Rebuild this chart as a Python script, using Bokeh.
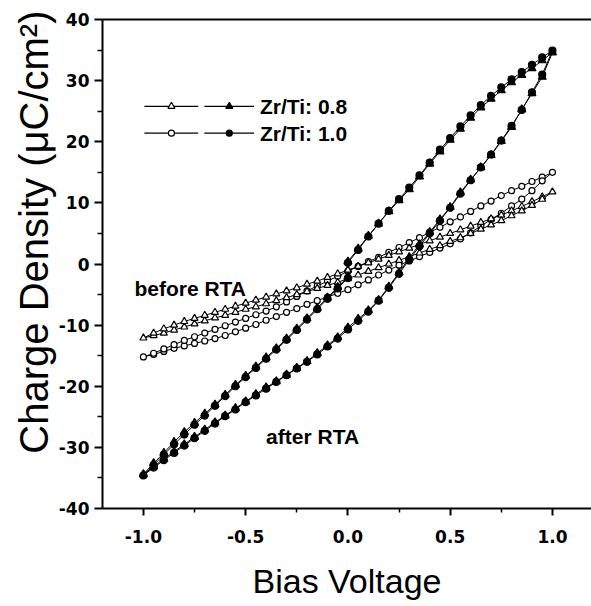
import numpy as np
from bokeh.plotting import figure
from bokeh.models import FixedTicker, LinearAxis, Label, Range1d, Title
from bokeh.embed import file_html
from bokeh.resources import INLINE

# ---------------- data ----------------
# bias sweep: 0 -> +1 -> -1 -> 0  (V)
V = [0.00, 0.05, 0.10, 0.15, 0.20, 0.25, 0.30, 0.35, 0.40, 0.45, 0.50,
     0.55, 0.60, 0.65, 0.70, 0.75, 0.80, 0.85, 0.90, 0.95, 1.00,
     0.95, 0.90, 0.85, 0.80, 0.75, 0.70, 0.65, 0.60, 0.55, 0.50,
     0.45, 0.40, 0.35, 0.30, 0.25, 0.20, 0.15, 0.10, 0.05, 0.00,
     -0.05, -0.10, -0.15, -0.20, -0.25, -0.30, -0.35, -0.40, -0.45, -0.50,
     -0.55, -0.60, -0.65, -0.70, -0.75, -0.80, -0.85, -0.90, -0.95, -1.00,
     -0.95, -0.90, -0.85, -0.80, -0.75, -0.70, -0.65, -0.60, -0.55, -0.50,
     -0.45, -0.40, -0.35, -0.30, -0.25, -0.20, -0.15, -0.10, -0.05, 0.00]

# Zr/Ti 0.8, before RTA (open triangles)
q_before_08 = [-1.0, -0.4, 0.2, 0.8, 1.4, 2.0, 2.6, 3.2, 3.8, 4.4, 5.0,
               5.6, 6.2, 6.8, 7.4, 8.0, 8.7, 9.4, 10.2, 11.0, 11.8,
               10.6, 9.6, 8.7, 7.9, 7.1, 6.4, 5.7, 5.0, 4.3, 3.7,
               3.0, 2.4, 1.8, 1.2, 0.6, 0.0, -0.6, -1.2, -1.8, -2.4,
               -3.0, -3.5, -4.0, -4.5, -5.0, -5.5, -6.0, -6.5, -7.0, -7.4,
               -7.9, -8.4, -8.8, -9.3, -9.8, -10.3, -10.8, -11.3, -11.7, -12.1,
               -11.3, -10.6, -10.0, -9.4, -8.9, -8.4, -7.9, -7.4, -6.9, -6.4,
               -5.9, -5.4, -4.9, -4.4, -3.9, -3.3, -2.8, -2.2, -1.6, -1.0]

# Zr/Ti 1.0, before RTA (open circles)
q_before_10 = [-1.2, -0.4, 0.4, 1.1, 1.9, 2.7, 3.5, 4.3, 5.2, 6.0, 6.9,
               7.7, 8.6, 9.5, 10.3, 11.2, 12.0, 12.7, 13.5, 14.2, 15.0,
               13.6, 12.0, 10.6, 9.5, 8.3, 7.3, 6.2, 5.1, 4.1, 3.3,
               2.6, 1.9, 1.2, 0.5, -0.2, -1.0, -1.8, -2.6, -3.4, -4.2,
               -4.8, -5.4, -6.0, -6.6, -7.3, -7.9, -8.6, -9.2, -9.9, -10.5,
               -11.1, -11.7, -12.2, -12.6, -13.0, -13.4, -13.8, -14.3, -14.8, -15.2,
               -14.6, -13.9, -13.2, -12.5, -11.9, -11.3, -10.7, -10.1, -9.5, -8.9,
               -8.3, -7.7, -7.0, -6.2, -5.3, -4.4, -3.6, -2.8, -2.0, -1.2]

# Zr/Ti 0.8, after RTA (filled triangles)
q_after_08 = [0.4, 2.5, 4.6, 6.6, 8.6, 10.4, 12.2, 14.3, 16.4, 18.4, 20.3,
              22.1, 23.9, 25.6, 27.0, 28.4, 29.7, 30.9, 32.0, 33.3, 34.6,
              30.6, 27.9, 25.3, 22.4, 20.1, 17.8, 15.8, 13.8, 11.7, 9.3,
              7.3, 5.2, 3.2, 1.0, -1.4, -3.7, -5.9, -7.6, -9.0, -10.4,
              -12.0, -13.3, -14.6, -15.9, -17.0, -18.1, -19.2, -20.2, -21.3, -22.5,
              -23.6, -24.8, -25.9, -27.1, -28.3, -29.5, -30.7, -31.9, -33.1, -34.4,
              -32.6, -30.9, -29.1, -27.5, -26.0, -24.5, -23.0, -21.4, -19.8, -18.3,
              -16.8, -15.3, -13.8, -12.2, -10.6, -8.9, -7.2, -5.5, -3.8, -2.1]

# Zr/Ti 1.0, after RTA (filled circles)
q_after_10 = [0.2, 2.3, 4.5, 6.6, 8.7, 10.6, 12.5, 14.5, 16.6, 18.7, 20.6,
              22.5, 24.3, 26.0, 27.5, 28.9, 30.2, 31.4, 32.6, 33.8, 34.9,
              31.0, 28.1, 25.2, 22.6, 20.2, 17.9, 15.8, 13.7, 11.5, 9.2,
              7.1, 5.0, 2.9, 0.7, -1.6, -3.9, -6.0, -7.8, -9.3, -10.7,
              -12.2, -13.5, -14.8, -16.0, -17.1, -18.2, -19.3, -20.4, -21.5, -22.6,
              -23.8, -24.9, -26.1, -27.3, -28.5, -29.7, -30.9, -32.1, -33.3, -34.6,
              -32.9, -31.2, -29.5, -27.9, -26.3, -24.8, -23.2, -21.6, -20.0, -18.5,
              -17.0, -15.5, -14.0, -12.4, -10.8, -9.1, -7.4, -5.7, -4.0, -2.3]

x_ticks = [-1.0, -0.5, 0.0, 0.5, 1.0]
x_tick_labels = ["-1.0", "-0.5", "0.0", "0.5", "1.0"]
x_minor = [-0.75, -0.25, 0.25, 0.75]
y_ticks = [-40, -30, -20, -10, 0, 10, 20, 30, 40]
y_tick_labels = ["-40", "-30", "-20", "-10", "0", "10", "20", "30", "40"]
y_minor = [-35, -25, -15, -5, 5, 15, 25, 35]

legend_labels = ["Zr/Ti: 0.8", "Zr/Ti: 1.0"]
x_title = "Bias Voltage"
y_title = "Charge Density (\u03bcC/cm\u00b2)"
note_before = "before RTA"
note_after = "after RTA"

# ---------------- figure ----------------
p = figure(width=591, height=606, x_range=Range1d(-1.2, 1.191), y_range=Range1d(-40, 40),
           output_backend="svg", toolbar_location=None,
           min_border_left=102, min_border_right=0, min_border_top=19, min_border_bottom=98,
           x_axis_label=x_title)
p.xgrid.visible = False
p.ygrid.visible = False
p.outline_line_color = None
p.background_fill_color = "white"

TICK_FONT = "DejaVu Sans"
TXT_FONT = "Liberation Sans"

xa = p.xaxis[0]
xa.ticker = FixedTicker(ticks=x_ticks, minor_ticks=x_minor)
xa.major_label_overrides = dict(zip(x_ticks, x_tick_labels))
xa.axis_line_width = 2
xa.major_tick_line_width = 2
xa.minor_tick_line_width = 1.5
xa.major_tick_in = 0
xa.major_tick_out = 7
xa.minor_tick_in = 0
xa.minor_tick_out = 4
xa.major_label_text_font = TICK_FONT
xa.major_label_text_font_style = "bold"
xa.major_label_text_font_size = "17px"
xa.major_label_text_color = "black"
xa.major_label_standoff = 14
xa.axis_label_text_font = TXT_FONT
xa.axis_label_text_font_style = "normal"
xa.axis_label_text_font_size = "34px"
xa.axis_label_text_color = "black"
xa.axis_label_standoff = 16

ya = p.yaxis[0]
ya.ticker = FixedTicker(ticks=y_ticks, minor_ticks=y_minor)
ya.major_label_overrides = dict(zip(y_ticks, y_tick_labels))
ya.axis_line_width = 2
ya.major_tick_line_width = 2
ya.minor_tick_line_width = 1.5
ya.major_tick_in = 0
ya.major_tick_out = 8
ya.minor_tick_in = 0
ya.minor_tick_out = 5
ya.major_label_text_font = TICK_FONT
ya.major_label_text_font_style = "bold"
ya.major_label_text_font_size = "17px"
ya.major_label_text_color = "black"
ya.major_label_standoff = 5

top = LinearAxis(ticker=FixedTicker(ticks=[]), axis_line_width=2,
                 major_tick_out=0, major_tick_in=0, minor_tick_out=0, minor_tick_in=0,
                 major_label_standoff=0, major_label_text_font_size="0px")
p.add_layout(top, "above")

# invisible spacer axis so that the rotated title sits further left
spacer = LinearAxis(ticker=FixedTicker(ticks=[]), axis_line_color=None,
                    major_tick_out=8, major_tick_in=0, minor_tick_out=0, minor_tick_in=0,
                    major_tick_line_color=None, minor_tick_line_color=None,
                    major_label_standoff=0, major_label_text_font_size="0px")
p.add_layout(spacer, "left")

# rotated y title placed in the left panel
ytitle = Title(text=y_title, align="right", offset=-9, vertical_align="bottom", standoff=0,
               text_font=TXT_FONT, text_font_size="40px", text_font_style="normal",
               text_color="black")
p.add_layout(ytitle, "left")

# ---------------- data series ----------------
series = [
    (q_before_10, "circle", 6, "white"),
    (q_before_08, "triangle", 7, "white"),
    (q_after_10, "circle", 7, "black"),
    (q_after_08, "triangle", 8, "black"),
]
for q, mk, sz, fc in series:
    p.line(V, q, line_color="black", line_width=1)
    p.scatter(V, q, marker=mk, size=sz, fill_color=fc, line_color="black", line_width=1.2)

# ---------------- manual legend (layout positions) ----------------
leg_y = [25.8, 21.4]
leg_markers = ["triangle", "circle"]
leg_sizes = [7, 6]
seg1 = (-0.995, -0.732, -0.863)
seg2 = (-0.702, -0.459, -0.580)
for i in range(2):
    yy = leg_y[i]
    p.line([seg1[0], seg1[1]], [yy, yy], line_color="black", line_width=1.2)
    p.line([seg2[0], seg2[1]], [yy, yy], line_color="black", line_width=1.2)
    p.scatter([seg1[2]], [yy], marker=leg_markers[i], size=leg_sizes[i],
              fill_color="white", line_color="black", line_width=1.2)
    p.scatter([seg2[2]], [yy], marker=leg_markers[i], size=leg_sizes[i],
              fill_color="black", line_color="black", line_width=1.2)
    p.add_layout(Label(x=-0.43, y=yy, text=legend_labels[i], text_font=TXT_FONT,
                       text_font_style="bold", text_font_size="21px",
                       text_baseline="middle", text_align="left", text_color="black"))

p.add_layout(Label(x=-1.044, y=-4.0, text=note_before, text_font=TXT_FONT,
                   text_font_style="bold", text_font_size="21px",
                   text_baseline="alphabetic", text_color="black"))
p.add_layout(Label(x=-0.40, y=-28.3, text=note_after, text_font=TXT_FONT,
                   text_font_style="bold", text_font_size="21px",
                   text_baseline="alphabetic", text_color="black"))

open("out.html", "w").write(file_html(p, INLINE))
